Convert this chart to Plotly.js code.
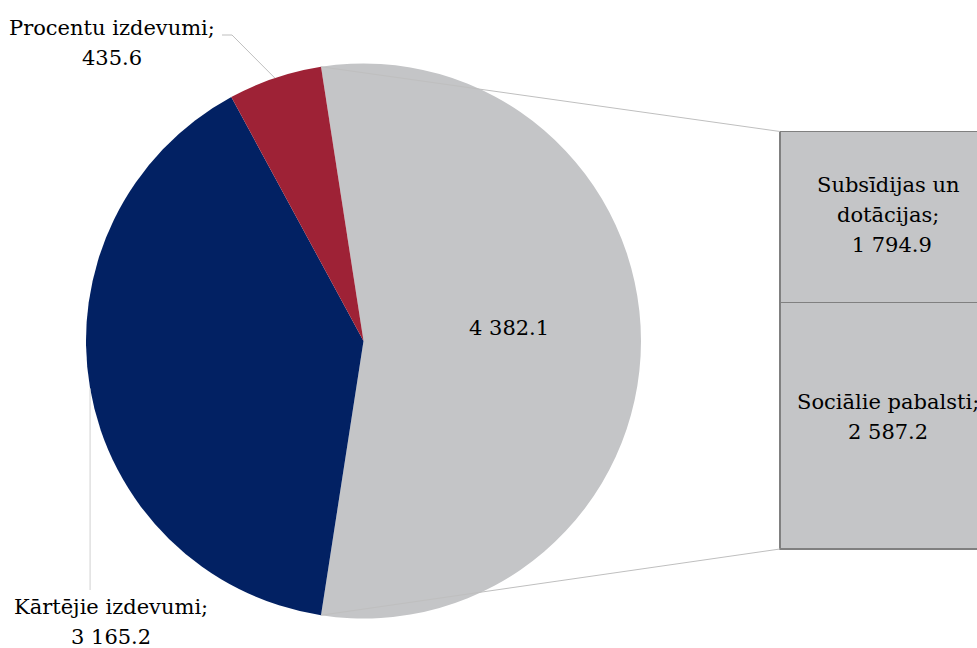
<!DOCTYPE html>
<html><head><meta charset="utf-8">
<script src="https://cdn.plot.ly/plotly-3.0.1.min.js"></script>
<style>html,body{margin:0;padding:0;background:#fff}#chart{width:977px;height:648px}</style>
</head><body><div id="chart"></div>
<script>
// ---- data ----
const pieLabels = ['Citi izdevumi', 'Kārtējie izdevumi', 'Procentu izdevumi'];
const pieValues = [4382.1, 3165.2, 435.6];
const pieColors = ['#C4C5C7', '#022163', '#9E2236'];
const barLabels = ['Sociālie pabalsti', 'Subsīdijas un dotācijas'];
const barValues = [2587.2, 1794.9];
const barColor = '#C4C5C7';

// ---- geometry (layout only) ----
const W = 977, H = 648;
const cx = 363.5, cy = 341, R = 277.5;
const barLeft = 780, barTop = 131.5, barBottom = 549, barPxWidth = 216;
const FONT = {family: 'DejaVu Serif', size: 21, color: '#000'};
const LINE = 30;

function fmt(v) {
  const s = v.toFixed(1);
  const [i, d] = s.split('.');
  return i.replace(/\B(?=(\d{3})+(?!\d))/g, ' ') + '.' + d;
}
const px = x => x / W;
const py = y => 1 - y / H;

const total = pieValues.reduce((a, b) => a + b, 0);
const rotation = 90 - 180 * pieValues[0] / total;
const starts = [];
let acc = 0;
pieValues.forEach(v => { starts.push(rotation + 360 * acc / total); acc += v; });
const angOf = i => starts[i] + 180 * pieValues[i] / total;
function edge(aDeg) {
  const a = aDeg * Math.PI / 180;
  return [cx + R * Math.sin(a), cy - R * Math.cos(a)];
}

// bar axes
const barTotal = barValues.reduce((a, b) => a + b, 0);
const pad = 2;
const pxPerUnit = (barBottom - barTop) / barTotal;
const yDomain = [py(barBottom + pad), py(barTop - pad)];
const yRange = [-pad / pxPerUnit, barTotal + pad / pxPerUnit];
const xDom0 = 0.79;
const xDomPx = W * (1 - xDom0);
const r0 = -(barLeft - W * xDom0) / barPxWidth;
const xRange = [r0, r0 + xDomPx / barPxWidth];

const traces = [
  {
    type: 'pie', labels: pieLabels, values: pieValues, sort: false,
    direction: 'clockwise', rotation: rotation,
    marker: {colors: pieColors, line: {width: 0}},
    textinfo: 'none', hoverinfo: 'label+value', showlegend: false,
    domain: {x: [px(cx - R), px(cx + R)], y: [py(cy + R), py(cy - R)]}
  }
];
barValues.forEach((v, i) => {
  traces.push({
    type: 'bar', x: [0.5], y: [v], width: [1], name: barLabels[i],
    xaxis: 'x', yaxis: 'y', showlegend: false, hoverinfo: 'y',
    marker: {color: barColor, line: {color: '#808080', width: 1.2}}
  });
});

// connector lines pie -> bar
const gStart = edge(starts[0]);
const gEnd = edge(starts[0] + 360 * pieValues[0] / total);
const shapes = [];
function seg(a, b, color) {
  shapes.push({type: 'line', xref: 'paper', yref: 'paper',
    x0: px(a[0]), y0: py(a[1]), x1: px(b[0]), y1: py(b[1]),
    line: {color: color, width: 1}});
}
seg(gStart, [barLeft, barTop], '#BFBFBF');
seg(gEnd, [barLeft, barBottom], '#BFBFBF');
const redMid = edge(angOf(2));
seg(redMid, [232, 35], '#BFBFBF');
seg([232, 35], [222, 35], '#BFBFBF');
const navyMid = edge(angOf(1));
seg(navyMid, [navyMid[0], 590], '#D0D0D0');

// labels
const annotations = [];
function label(lines, xc, firstBaseline) {
  lines.forEach((t, k) => {
    annotations.push({text: t, xref: 'paper', yref: 'paper',
      x: px(xc), y: py(firstBaseline + k * LINE - 7.5),
      xanchor: 'center', yanchor: 'middle', showarrow: false, font: FONT});
  });
}
label([pieLabels[2] + ';', fmt(pieValues[2])], 112, 35);
label([pieLabels[1] + ';', fmt(pieValues[1])], 110.5, 614);
label([fmt(pieValues[0])], 509.5, 335);
label(['Subsīdijas un', 'dotācijas;', ' ' + fmt(barValues[1])], 888, 192);
label([barLabels[0] + ';', fmt(barValues[0])], 888, 409);

const layout = {
  width: W, height: H, margin: {l: 0, r: 0, t: 0, b: 0},
  paper_bgcolor: '#fff', plot_bgcolor: 'rgba(0,0,0,0)',
  barmode: 'stack', showlegend: false,
  font: FONT,
  xaxis: {domain: [xDom0, 1], range: xRange, visible: false, fixedrange: true},
  yaxis: {domain: yDomain, range: yRange, visible: false, fixedrange: true},
  shapes: shapes, annotations: annotations
};
Plotly.newPlot('chart', traces, layout, {displayModeBar: false, staticPlot: true});
</script></body></html>
